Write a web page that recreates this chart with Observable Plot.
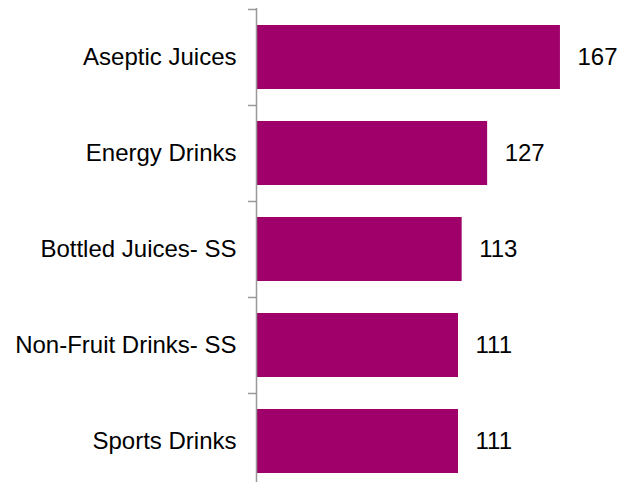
<!DOCTYPE html>
<html><head><meta charset="utf-8">
<script src="https://cdn.jsdelivr.net/npm/d3@7"></script>
<script src="https://cdn.jsdelivr.net/npm/@observablehq/plot@0.6"></script>
<style>body{margin:0;background:#fff;} svg{overflow:hidden}</style>
</head><body><div id="chart"></div>
<script>
const categories = ["Aseptic Juices", "Energy Drinks", "Bottled Juices- SS", "Non-Fruit Drinks- SS", "Sports Drinks"];
const values = [167, 127, 113, 111, 111];
const data = categories.map((c, i) => ({category: c, value: values[i]}));

const W = 625, H = 482;
const yRange = [9, 489];
const step = (yRange[1] - yRange[0]) / categories.length;

const chart = Plot.plot({
  width: W, height: H,
  marginLeft: 256, marginRight: 5, marginTop: 8, marginBottom: 0,
  style: {fontFamily: "'Liberation Sans', Arial, sans-serif", fontSize: "24px", color: "#000", background: "#fff"},
  x: {domain: [0, 200], range: [256, 620], axis: null},
  y: {domain: categories, range: yRange, paddingInner: 1/3, paddingOuter: 1/6, label: null},
  marks: [
    Plot.barX(data, {x: "value", y: "category", fill: "#A0006A"}),
    Plot.axisY({tickSize: 0, tickPadding: 20, fontSize: 24, fill: "#000", label: null}),
    Plot.axisY({tickSize: 8, text: null, dy: -step / 2, stroke: "#999", strokeWidth: 1.5, label: null}),
    Plot.ruleX([0], {stroke: "#999", strokeWidth: 1.5}),
    Plot.text(data, {x: "value", y: "category", text: d => String(d.value), dx: 17, textAnchor: "start", fontSize: 24, fill: "#000"})
  ]
});
document.getElementById("chart").appendChild(chart);
</script>
</body></html>
